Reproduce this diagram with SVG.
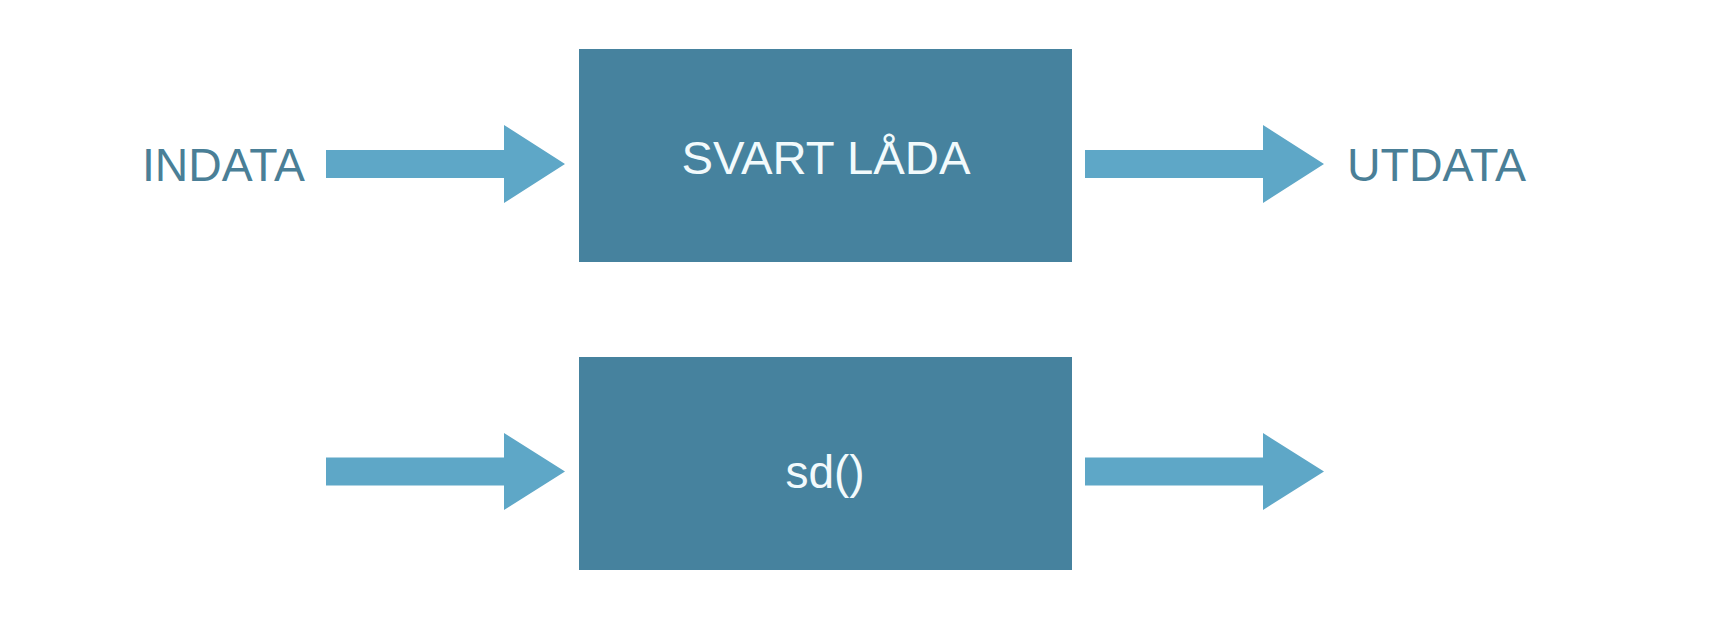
<svg xmlns="http://www.w3.org/2000/svg" width="1728" height="624" viewBox="0 0 1728 624">
<style>
.box{fill:#46829e;}
.arrow{fill:#5ea7c7;}
.lbl{font-family:"Liberation Sans",Arial,sans-serif;font-size:46px;fill:#4a7f97;}
.inner{font-family:"Liberation Sans",Arial,sans-serif;font-size:46px;fill:#f2fafc;text-anchor:middle;}
</style>
<rect width="1728" height="624" fill="#ffffff"/>
<g id="indata"><text class="lbl" x="142" y="181" textLength="163" lengthAdjust="spacingAndGlyphs">INDATA</text></g>
<g id="svart-lada">
<rect class="box" x="579" y="49" width="493" height="213"/>
<text class="inner" x="826" y="173.5" textLength="289" lengthAdjust="spacingAndGlyphs">SVART LÅDA</text>
</g>
<g id="utdata"><text class="lbl" x="1347" y="181" textLength="179" lengthAdjust="spacingAndGlyphs">UTDATA</text></g>
<g id="sd">
<rect class="box" x="579" y="357" width="493" height="213"/>
<text class="inner" x="825" y="488">sd()</text>
</g>
<g id="connectors">
<polygon class="arrow" points="326,150 504,150 504,125 565,164 504,203 504,178 326,178"/>
<polygon class="arrow" points="1085,150 1263,150 1263,125 1324,164 1263,203 1263,178 1085,178"/>
<polygon class="arrow" points="326,457.5 504,457.5 504,433 565,471.5 504,510 504,485.5 326,485.5"/>
<polygon class="arrow" points="1085,457.5 1263,457.5 1263,433 1324,471.5 1263,510 1263,485.5 1085,485.5"/>
</g>
</svg>
